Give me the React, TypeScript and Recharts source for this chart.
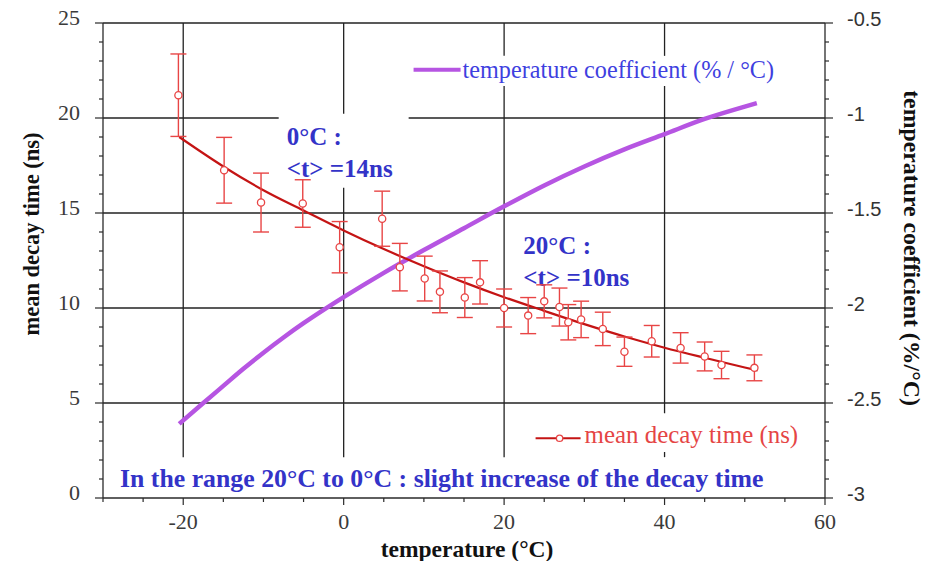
import React from 'react';
import {
  ComposedChart,
  Line,
  Scatter,
  ErrorBar,
  XAxis,
  YAxis,
  ReferenceLine,
  ReferenceArea,
} from 'recharts';

// Measured mean decay time (ns) with its uncertainty, per temperature (°C)
const temperatures = [-20.6, -14.9, -10.3, -5.1, -0.5, 4.8, 7.0, 10.1, 12.0, 15.1, 17.0, 20.0, 23.0, 25.0, 26.9, 28.0, 29.6, 32.3, 35.0, 38.4, 42.0, 45.0, 47.1, 51.2];
const decayTimes = [21.2, 17.25, 15.55, 15.5, 13.2, 14.7, 12.15, 11.55, 10.85, 10.55, 11.35, 10.0, 9.6, 10.35, 10.05, 9.25, 9.4, 8.9, 7.7, 8.25, 7.9, 7.45, 7.0, 6.85];
const decayErrors = [2.17, 1.73, 1.55, 1.25, 1.35, 1.45, 1.25, 1.18, 1.1, 1.05, 1.14, 1.0, 0.95, 0.87, 1.0, 0.93, 0.96, 0.88, 0.77, 0.83, 0.8, 0.76, 0.72, 0.68];

// Fitted decay-time curve
const fitTemperatures = [-20.5, -15, -10, -5, 0, 5, 10, 15, 20, 25, 30, 35, 40, 45, 50, 51.6];
const fitDecay = [19.0, 17.45, 16.2, 15.13, 14.08, 13.1, 12.2, 11.35, 10.57, 9.85, 9.15, 8.5, 7.91, 7.38, 6.87, 6.72];

// Temperature coefficient (%/°C)
const coefTemperatures = [-20.5, -17.5, -15, -12.5, -10, -7.5, -5, -2.5, 0, 5, 10, 15, 20, 25, 30, 35, 40, 45, 50, 51.5];
const coefValues = [-2.61, -2.5, -2.41, -2.32, -2.235, -2.155, -2.08, -2.01, -1.943, -1.815, -1.695, -1.58, -1.465, -1.355, -1.255, -1.165, -1.085, -1.005, -0.94, -0.922];

// Axis ticks
const xTicks = [-30, -25, -20, -15, -10, -5, 0, 5, 10, 15, 20, 25, 30, 35, 40, 45, 50, 55, 60];
const xLabelled = [-20, 0, 20, 40, 60];
const leftTicks = [0, 1, 2, 3, 4, 5, 6, 7, 8, 9, 10, 11, 12, 13, 14, 15, 16, 17, 18, 19, 20, 21, 22, 23, 24, 25];
const leftLabelled = [0, 5, 10, 15, 20, 25];
const rightTicks = [-3, -2.9, -2.8, -2.7, -2.6, -2.5, -2.4, -2.3, -2.2, -2.1, -2, -1.9, -1.8, -1.7, -1.6, -1.5, -1.4, -1.3, -1.2, -1.1, -1, -0.9, -0.8, -0.7, -0.6, -0.5];
const rightLabelled = [-3, -2.5, -2, -1.5, -1, -0.5];

// Grid: vertical lines (x) and horizontal lines (y), as [from, to] spans so text blocks stay clear
const verticalGrid: { x: number; spans: [number, number][] }[] = [
  { x: -20, spans: [[2.15, 25]] },
  { x: 0, spans: [[2.15, 16.33], [20.22, 25]] },
  { x: 20, spans: [[2.15, 21.69], [23.27, 25]] },
  { x: 40, spans: [[2.15, 2.42], [4.46, 21.69], [23.27, 25]] },
];
const horizontalGrid: { y: number; spans: [number, number][] }[] = [
  { y: 5, spans: [[-30, 60]] },
  { y: 10, spans: [[-30, 60]] },
  { y: 15, spans: [[-30, 60]] },
  { y: 20, spans: [[-30, -8.1], [8.1, 60]] },
  { y: 25, spans: [[-30, 60]] },
];

const decayData = temperatures.map((x, i) => ({ x, y: decayTimes[i], err: decayErrors[i] }));
const fitData = fitTemperatures.map((x, i) => ({ x, y: fitDecay[i] }));
const coefData = coefTemperatures.map((x, i) => ({ x, c: coefValues[i] }));

const SERIF = '"Liberation Serif", "Times New Roman", serif';
const SANS = '"Liberation Sans", Arial, sans-serif';
const AXIS = '#2a2a2a';
const GRID = '#222';
const PURPLE = '#b655e2';
const RED_POINT = '#e84545';
const RED_FIT = '#c41414';
const NOTE_BLUE = '#3333c8';

const isLabelled = (list: number[], v: number) => list.some((t) => Math.abs(t - v) < 1e-6);

const XTick = (props: any) => {
  const { x, y, payload } = props;
  const major = isLabelled(xLabelled, payload.value);
  return (
    <g>
      <line x1={x} x2={x} y1={y} y2={y + (major ? 7 : 4)} stroke={AXIS} strokeWidth={1.2} />
      {major && (
        <text x={x} y={y + 31} textAnchor="middle" fontFamily={SERIF} fontSize={22} fill="#3a3a3a">
          {payload.value}
        </text>
      )}
    </g>
  );
};

const LeftTick = (props: any) => {
  const { x, y, payload } = props;
  const major = isLabelled(leftLabelled, payload.value);
  return (
    <g>
      <line x1={x - (major ? 8 : 4)} x2={x} y1={y} y2={y} stroke={AXIS} strokeWidth={1.2} />
      {major && (
        <text x={x - 23} y={y + 2} textAnchor="end" fontFamily={SERIF} fontSize={22} fill="#3a3a3a">
          {payload.value}
        </text>
      )}
    </g>
  );
};

const RightTick = (props: any) => {
  const { x, y, payload } = props;
  const major = isLabelled(rightLabelled, payload.value);
  return (
    <g>
      <line x1={x} x2={x + (major ? 8 : 4)} y1={y} y2={y} stroke={AXIS} strokeWidth={1.2} />
      {major && (
        <text x={x + 22} y={y + 3} textAnchor="start" fontFamily={SANS} fontSize={20} fill="#333">
          {payload.value}
        </text>
      )}
    </g>
  );
};

const PointShape = (props: any) => {
  const { cx, cy } = props;
  if (cx == null || cy == null) return null;
  return <circle cx={cx} cy={cy} r={3.6} fill="#fff" stroke={RED_POINT} strokeWidth={1.3} />;
};

const TwoLineNote = (lines: string[]) => (props: any) => {
  const vb = props.viewBox || {};
  return (
    <g>
      {lines.map((t, i) => (
        <text
          key={i}
          x={vb.x + 8}
          y={vb.y + 31 + i * 32}
          fontFamily={SERIF}
          fontWeight="bold"
          fontSize={25}
          fill={NOTE_BLUE}
        >
          {t}
        </text>
      ))}
    </g>
  );
};

const CoefLegend = (props: any) => {
  const vb = props.viewBox || {};
  const ly = vb.y + 14;
  return (
    <g>
      <line x1={vb.x + 3} x2={vb.x + 50} y1={ly} y2={ly} stroke={PURPLE} strokeWidth={4} />
      <text x={vb.x + 52} y={vb.y + 22} fontFamily={SERIF} fontSize={24.2} fill="#3f3fe0">
        temperature coefficient (% / °C)
      </text>
    </g>
  );
};

const DecayLegend = (props: any) => {
  const vb = props.viewBox || {};
  const ly = vb.y + 25;
  return (
    <g>
      <line x1={vb.x + 5} x2={vb.x + 50} y1={ly} y2={ly} stroke={RED_FIT} strokeWidth={2.2} />
      <circle cx={vb.x + 29} cy={ly} r={3.2} fill="#fff" stroke={RED_POINT} strokeWidth={1.3} />
      <text x={vb.x + 54} y={vb.y + 30} fontFamily={SERIF} fontSize={24.9} fill="#e54545">
        mean decay time (ns)
      </text>
    </g>
  );
};

const BottomNote = (props: any) => {
  const vb = props.viewBox || {};
  return (
    <text x={vb.x + 17} y={vb.y + 30} fontFamily={SERIF} fontWeight="bold" fontSize={25.8} fill={NOTE_BLUE}>
      In the range 20°C to 0°C : slight increase of the decay time
    </text>
  );
};

const LeftTitle = (props: any) => {
  const vb = props.viewBox || {};
  const cx = vb.x + 31;
  const cy = vb.y + 211;
  return (
    <text
      x={cx}
      y={cy}
      transform={`rotate(-90, ${cx}, ${cy})`}
      textAnchor="middle"
      dominantBaseline="central"
      fontFamily={SERIF}
      fontWeight="bold"
      fontSize={22.5}
      fill="#111"
    >
      mean decay time (ns)
    </text>
  );
};

const RightTitle = (props: any) => {
  const vb = props.viewBox || {};
  const cx = vb.x + 87;
  const cy = vb.y + 225;
  return (
    <text
      x={cx}
      y={cy}
      transform={`rotate(90, ${cx}, ${cy})`}
      textAnchor="middle"
      dominantBaseline="central"
      fontFamily={SERIF}
      fontWeight="bold"
      fontSize={23.8}
      fill="#111"
    >
      temperature coefficient (%/°C)
    </text>
  );
};

const BottomTitle = (props: any) => {
  const vb = props.viewBox || {};
  return (
    <text
      x={vb.x + vb.width / 2 + 3}
      y={vb.y + 59}
      textAnchor="middle"
      fontFamily={SERIF}
      fontWeight="bold"
      fontSize={23.5}
      fill="#111"
    >
      temperature (°C)
    </text>
  );
};

export default function App() {
  return (
    <div style={{ position: 'absolute', left: 0, top: 0, background: '#fff' }}>
      <ComposedChart width={925} height={561} margin={{ top: 23, right: 0, bottom: 0, left: 0 }}>
        <XAxis
          type="number"
          dataKey="x"
          domain={[-30, 60]}
          ticks={xTicks}
          interval={0}
          allowDataOverflow
          tickSize={0}
          tickMargin={0}
          tickLine={false}
          tick={XTick}
          height={63}
          axisLine={{ stroke: AXIS, strokeWidth: 1.3 }}
          label={BottomTitle}
        />
        <YAxis
          yAxisId="left"
          type="number"
          dataKey="y"
          domain={[0, 25]}
          ticks={leftTicks}
          interval={0}
          allowDataOverflow
          tickSize={0}
          tickMargin={0}
          tickLine={false}
          tick={LeftTick}
          width={103}
          axisLine={{ stroke: AXIS, strokeWidth: 1.3 }}
          label={LeftTitle}
        />
        <YAxis
          yAxisId="right"
          orientation="right"
          type="number"
          dataKey="c"
          domain={[-3, -0.5]}
          ticks={rightTicks}
          interval={0}
          allowDataOverflow
          tickSize={0}
          tickMargin={0}
          tickLine={false}
          tick={RightTick}
          width={100}
          axisLine={{ stroke: AXIS, strokeWidth: 1.3 }}
          label={RightTitle}
        />

        {verticalGrid.flatMap((g) =>
          g.spans.map((s, i) => (
            <ReferenceLine
              key={`v${g.x}-${i}`}
              yAxisId="left"
              segment={[{ x: g.x, y: s[0] }, { x: g.x, y: s[1] }]}
              stroke={GRID}
              strokeWidth={1.3}
              zIndex={-50}
            />
          ))
        )}
        {horizontalGrid.flatMap((g) =>
          g.spans.map((s, i) => (
            <ReferenceLine
              key={`h${g.y}-${i}`}
              yAxisId="left"
              segment={[{ x: s[0], y: g.y }, { x: s[1], y: g.y }]}
              stroke={GRID}
              strokeWidth={1.3}
              zIndex={-50}
            />
          ))
        )}

        <ReferenceArea yAxisId="left" x1={-8.1} x2={8.1} y1={16.33} y2={20.22} fillOpacity={0} strokeOpacity={0}
          label={TwoLineNote(['0°C :', '<t> =14ns'])} />
        <ReferenceArea yAxisId="left" x1={21.4} x2={37} y1={11.19} y2={14.5} fillOpacity={0} strokeOpacity={0}
          label={TwoLineNote(['20°C :', '<t> =10ns'])} />
        <ReferenceArea yAxisId="left" x1={8.34} x2={54.4} y1={21.69} y2={23.27} fillOpacity={0} strokeOpacity={0}
          label={CoefLegend} />
        <ReferenceArea yAxisId="left" x1={23.3} x2={56.9} y1={2.42} y2={4.46} fillOpacity={0} strokeOpacity={0}
          label={DecayLegend} />
        <ReferenceArea yAxisId="left" x1={-30} x2={60} y1={0} y2={2.15} fillOpacity={0} strokeOpacity={0}
          label={BottomNote} />

        <Line
          yAxisId="right"
          data={coefData}
          dataKey="c"
          type="monotone"
          stroke={PURPLE}
          strokeWidth={4.5}
          dot={false}
          activeDot={false}
          isAnimationActive={false}
        />
        <Line
          yAxisId="left"
          data={fitData}
          dataKey="y"
          type="monotone"
          stroke={RED_FIT}
          strokeWidth={2.2}
          dot={false}
          activeDot={false}
          isAnimationActive={false}
        />
        <Scatter
          yAxisId="left"
          data={decayData}
          dataKey="y"
          shape={PointShape}
          isAnimationActive={false}
        >
          <ErrorBar dataKey="err" direction="y" width={8} stroke={RED_POINT} strokeWidth={1.4} />
        </Scatter>
      </ComposedChart>
    </div>
  );
}
